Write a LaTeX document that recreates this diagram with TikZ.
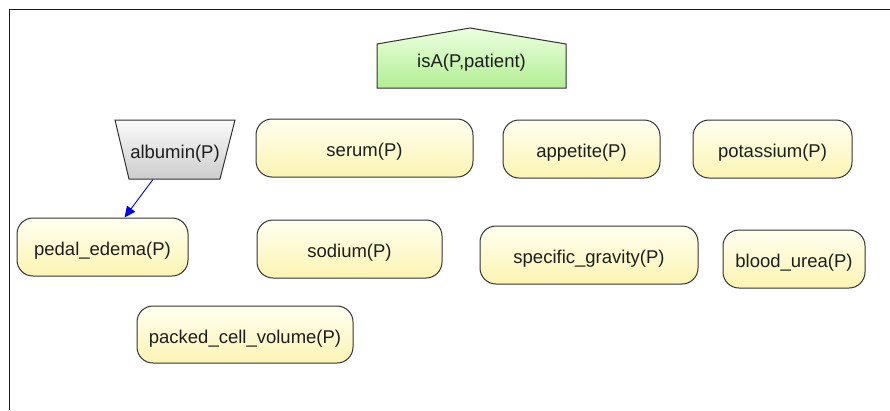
\documentclass[tikz,border=0pt]{standalone}
\usepackage{fontspec}
\setmainfont{Liberation Sans}
\usetikzlibrary{arrows.meta}

\definecolor{edgegrey}{RGB}{50,50,50}
\definecolor{inktext}{RGB}{30,30,30}
\definecolor{predtop}{RGB}{255,255,240}
\definecolor{predbot}{RGB}{251,244,178}
\definecolor{headtop}{RGB}{236,255,224}
\definecolor{headbot}{RGB}{178,238,146}
\definecolor{negtop}{RGB}{250,250,250}
\definecolor{negbot}{RGB}{205,205,205}
\definecolor{linkblue}{RGB}{0,0,255}

\tikzset{
  lbl/.style={font=\fontsize{18.5}{21}\selectfont, text=inktext, inner sep=0pt,
    text height=17pt, text depth=0pt},
  pred/.style={lbl, draw=edgegrey, line width=1pt, rounded corners=16pt,
    top color=predtop, bottom color=predbot, minimum height=58pt},
  plainbox/.style={lbl, draw=none},
  headshape/.style={draw=edgegrey, line width=1pt, top color=headtop, bottom color=headbot},
  negshape/.style={draw=edgegrey, line width=1pt, top color=negtop, bottom color=negbot},
  link/.style={draw=linkblue, line width=0.9pt, -{Triangle[length=11pt,width=10pt]}},
  frameline/.style={draw=black!90, line width=1.6pt}
}

\begin{document}
\begin{tikzpicture}[x=1pt,y=-1pt]
  \useasboundingbox (0,0) rectangle (890,410);

  % window frame
  \draw[frameline] (9.5,410) -- (9.5,9.5) -- (890,9.5);

  % head literal (pentagon)
  \path[headshape] (377,88) -- (377,44) -- (470,28) -- (566,44) -- (566,88) -- cycle;
  \node[plainbox, minimum width=189pt, minimum height=40pt] (isa) at (471.5,58.5) {isA(P,patient)};

  % negated literal (inverted trapezoid)
  \path[negshape] (115,120) -- (235,120) -- (220,179) -- (129,179) -- cycle;
  \node[plainbox, minimum width=120pt, minimum height=59pt] (albumin) at (175,150) {albumin(P)};

  % body literals
  \node[pred, minimum width=217pt] (serum) at (364.5,148) {serum(P)};
  \node[pred, minimum width=157pt] (appetite) at (581.5,149) {appetite(P)};
  \node[pred, minimum width=159pt] (potassium) at (772.5,149) {potassium(P)};
  \node[pred, minimum width=171pt] (pedal) at (102.5,247) {pedal\_edema(P)};
  \node[pred, minimum width=185pt] (sodium) at (349.5,249) {sodium(P)};
  \node[pred, minimum width=218pt] (gravity) at (589,255) {specific\_gravity(P)};
  \node[pred, minimum width=142pt] (urea) at (794,259) {blood\_urea(P)};
  \node[pred, minimum width=216pt, minimum height=57pt] (pcv) at (245,334.5) {packed\_cell\_volume(P)};

  % link
  \draw[link] (albumin) -- (pedal);
\end{tikzpicture}
\end{document}
